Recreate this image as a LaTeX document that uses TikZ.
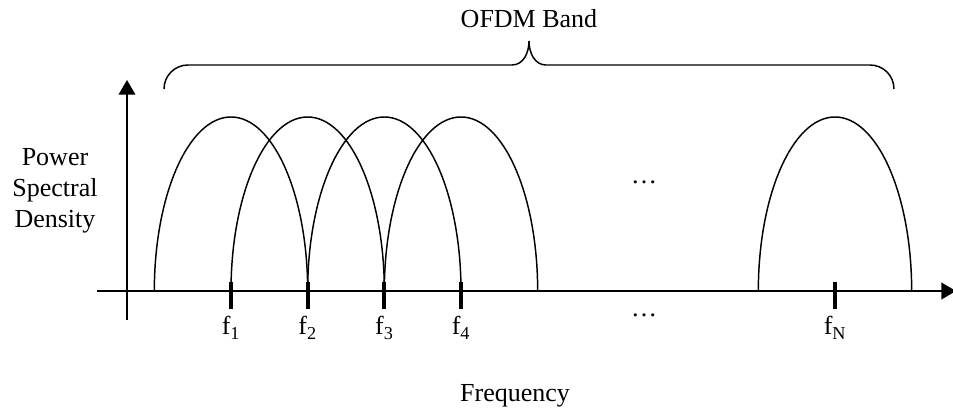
\documentclass[tikz,border=0pt]{standalone}
\usepackage{fontspec}
\setmainfont{Liberation Serif}
\usepackage{tikz}
\usetikzlibrary{arrows.meta}

\begin{document}
\begin{tikzpicture}[
    x=0.75pt, y=0.75pt,
    axis/.style={line width=1.5pt, -{Triangle[length=11pt, width=12.5pt]}},
    arch/.style={line width=1.1pt},
    tickmark/.style={line width=2.8pt},
    brace/.style={line width=1.1pt},
    lbl/.style={font=\fontsize{19.5}{23.25}\selectfont, inner sep=0pt, align=center},
]
\useasboundingbox (0,0) rectangle (953,410);

% axes
\coordinate (xs) at (97,119);
\coordinate (xe) at (956,119);
\coordinate (ys) at (127,90);
\coordinate (ye) at (127,330);
\draw[axis] (xs) -- (xe);
\draw[axis, line width=1.1pt] (ys) -- (ye);

% subcarriers
\coordinate (f1) at (231,119);
\coordinate (f2) at (307.67,119);
\coordinate (f3) at (384.33,119);
\coordinate (f4) at (461,119);
\coordinate (fN) at (835,119);

\draw[arch] ([xshift=-57.5pt]f1) arc[start angle=180, end angle=0, x radius=57.5pt, y radius=130.5pt];
\draw[arch] ([xshift=-57.5pt]f2) arc[start angle=180, end angle=0, x radius=57.5pt, y radius=130.5pt];
\draw[arch] ([xshift=-57.5pt]f3) arc[start angle=180, end angle=0, x radius=57.5pt, y radius=130.5pt];
\draw[arch] ([xshift=-57.5pt]f4) arc[start angle=180, end angle=0, x radius=57.5pt, y radius=130.5pt];
\draw[arch] ([xshift=-57.5pt]fN) arc[start angle=180, end angle=0, x radius=57.5pt, y radius=130.5pt];

\draw[tickmark] ([yshift=6.75pt]f1) -- ([yshift=-13.5pt]f1);
\draw[tickmark] ([yshift=6.75pt]f2) -- ([yshift=-13.5pt]f2);
\draw[tickmark] ([yshift=6.75pt]f3) -- ([yshift=-13.5pt]f3);
\draw[tickmark] ([yshift=6.75pt]f4) -- ([yshift=-13.5pt]f4);
\draw[tickmark] ([yshift=6.75pt]fN) -- ([yshift=-13.5pt]fN);

\node[lbl, anchor=base] (l1) at ([yshift=-33pt]f1) {f\textsubscript{1}};
\node[lbl, anchor=base] (l2) at ([yshift=-33pt]f2) {f\textsubscript{2}};
\node[lbl, anchor=base] (l3) at ([yshift=-33pt]f3) {f\textsubscript{3}};
\node[lbl, anchor=base] (l4) at ([yshift=-33pt]f4) {f\textsubscript{4}};
\node[lbl, anchor=base] (lN) at ([yshift=-33pt]fN) {f\textsubscript{N}};

\node[lbl, anchor=base] (dotsup) at (644,226) {\ldots};
\node[lbl, anchor=base] (dotslow) at (644,93) {\ldots};

% band brace
\draw[brace] (164,321) to[out=90, in=180] (188,345) -- (512,345)
    to[out=0, in=-90] (529,369) to[out=-90, in=180] (546,345)
    -- (870,345) to[out=0, in=90] (894,321);
\node[lbl, anchor=base] (band) at (529,382) {OFDM Band};

\node[lbl] (psd) at (55,219) {Power\\Spectral\\Density};
\node[lbl, anchor=base] (freq) at (515,8) {Frequency};
\end{tikzpicture}
\end{document}
